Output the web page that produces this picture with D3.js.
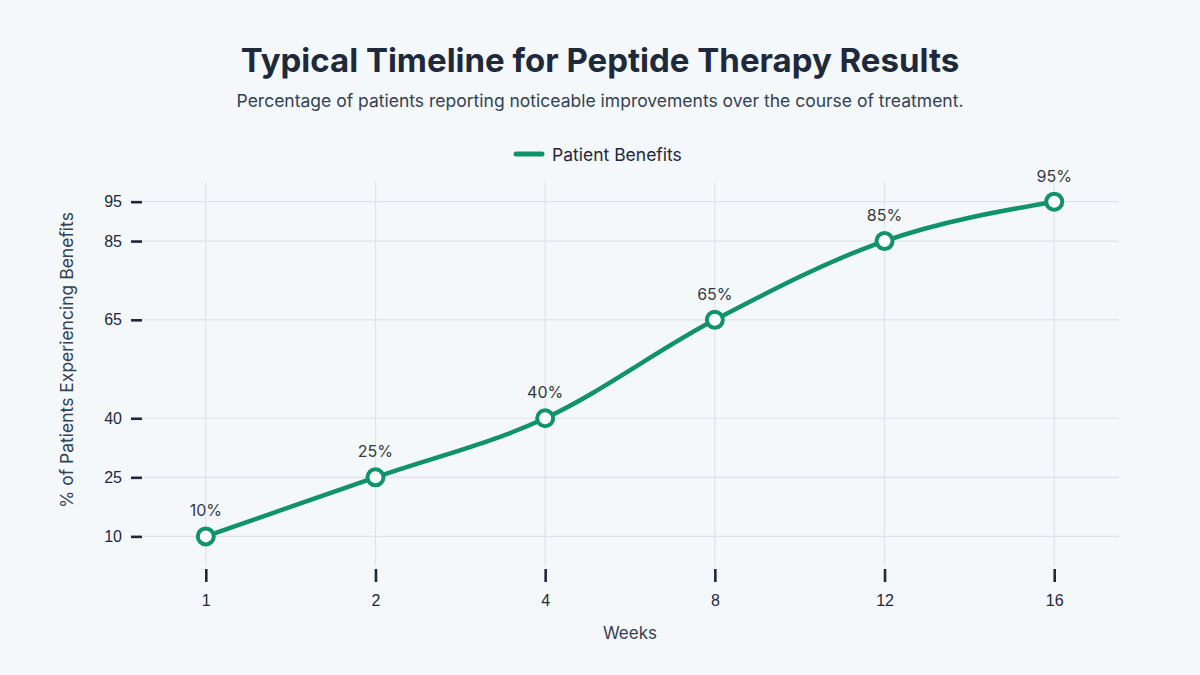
<!DOCTYPE html>
<html>
<head>
<meta charset="utf-8">
<script src="https://cdn.jsdelivr.net/npm/d3@7"></script>
<style>
  body { margin: 0; background: #f4f8fb; }
  svg { display: block; font-family: Inter, "Noto Sans", sans-serif; }
  .tick text { font-size: 16px; fill: #1e293b; }
</style>
</head>
<body>
<div id="chart"></div>
<script>
// data
var weeks = ["1", "2", "4", "8", "12", "16"];
var benefits = [10, 25, 40, 65, 85, 95];
var yTicks = [10, 25, 40, 65, 85, 95];

var svgWidth = 1200;
var svgHeight = 675;

var margin = {
  top: 182,
  bottom: 115,
  right: 83,
  left: 143
};

var height = svgHeight - margin.top - margin.bottom;
var width = svgWidth - margin.left - margin.right;

var green = "#10936a";

var svg = d3.select("#chart")
  .append("svg")
  .attr("width", svgWidth)
  .attr("height", svgHeight);

svg.append("rect")
  .attr("width", svgWidth)
  .attr("height", svgHeight)
  .attr("fill", "#f4f8fb");

// titles
svg.append("text")
  .attr("x", svgWidth / 2)
  .attr("y", 72)
  .attr("text-anchor", "middle")
  .attr("font-size", 33)
  .attr("font-weight", 700)
  .attr("fill", "#1e293b")
  .text("Typical Timeline for Peptide Therapy Results");

svg.append("text")
  .attr("x", svgWidth / 2)
  .attr("y", 107)
  .attr("text-anchor", "middle")
  .attr("font-size", 17.5)
  .attr("fill", "#334155")
  .text("Percentage of patients reporting noticeable improvements over the course of treatment.");

// legend
var legend = svg.append("g").attr("transform", "translate(514, 154)");
legend.append("line")
  .attr("x1", 2).attr("x2", 28)
  .attr("stroke", green)
  .attr("stroke-width", 5)
  .attr("stroke-linecap", "round");
legend.append("text")
  .attr("x", 38)
  .attr("y", 6.5)
  .attr("font-size", 17.5)
  .attr("fill", "#1e293b")
  .text("Patient Benefits");

var chartGroup = svg.append("g")
  .attr("transform", `translate(${margin.left}, ${margin.top})`);

var xScale = d3.scalePoint()
  .domain(weeks)
  .range([0, width])
  .padding(0.37);

var yScale = d3.scaleLinear()
  .domain([4, 100])
  .range([height, 0]);

// grid
chartGroup.append("g")
  .selectAll("line")
  .data(yTicks)
  .enter()
  .append("line")
  .attr("x1", 0)
  .attr("x2", width + 2)
  .attr("y1", d => yScale(d))
  .attr("y2", d => yScale(d))
  .attr("stroke", "#dde3ea")
  .attr("stroke-width", 1.2);

chartGroup.append("g")
  .selectAll("line")
  .data(weeks)
  .enter()
  .append("line")
  .attr("x1", d => xScale(d))
  .attr("x2", d => xScale(d))
  .attr("y1", 0)
  .attr("y2", height + 6)
  .attr("stroke", "#dde3ea")
  .attr("stroke-width", 1.2);

// axes
var xAxis = chartGroup.append("g")
  .attr("transform", `translate(0, ${height + 9})`)
  .call(d3.axisBottom(xScale).tickSize(13).tickPadding(13));

var yAxis = chartGroup.append("g")
  .attr("transform", "translate(-1, 0)")
  .call(d3.axisLeft(yScale).tickValues(yTicks).tickSize(11).tickPadding(9));

[xAxis, yAxis].forEach(function(ax) {
  ax.select(".domain").remove();
  ax.selectAll(".tick line").attr("stroke", "#1e293b").attr("stroke-width", 2.6);
  ax.selectAll(".tick text").attr("font-family", null).attr("font-size", null);
});

// axis titles
chartGroup.append("text")
  .attr("transform", "rotate(-90)")
  .attr("x", -(360 - margin.top))
  .attr("y", -margin.left + 73)
  .attr("text-anchor", "middle")
  .attr("font-size", 17.5)
  .attr("fill", "#334155")
  .text("% of Patients Experiencing Benefits");

chartGroup.append("text")
  .attr("x", width / 2)
  .attr("y", 639 - margin.top)
  .attr("text-anchor", "middle")
  .attr("font-size", 17)
  .attr("fill", "#334155")
  .text("Weeks");

// line
var points = weeks.map(function(w, i) { return { week: w, value: benefits[i] }; });

var line = d3.line()
  .x(d => xScale(d.week))
  .y(d => yScale(d.value))
  .curve(d3.curveMonotoneX);

chartGroup.append("path")
  .datum(points)
  .attr("d", line)
  .attr("fill", "none")
  .attr("stroke", green)
  .attr("stroke-width", 4.5)
  .attr("stroke-linecap", "round");

chartGroup.selectAll(".dot")
  .data(points)
  .enter()
  .append("circle")
  .attr("class", "dot")
  .attr("cx", d => xScale(d.week))
  .attr("cy", d => yScale(d.value))
  .attr("r", 8)
  .attr("fill", "#ffffff")
  .attr("stroke", green)
  .attr("stroke-width", 4);

chartGroup.selectAll(".label")
  .data(points)
  .enter()
  .append("text")
  .attr("class", "label")
  .attr("x", d => xScale(d.week))
  .attr("y", d => yScale(d.value) - 20)
  .attr("text-anchor", "middle")
  .attr("font-size", 16)
  .attr("fill", "#333a44")
  .text(d => d.value + "%");
</script>
</body>
</html>
